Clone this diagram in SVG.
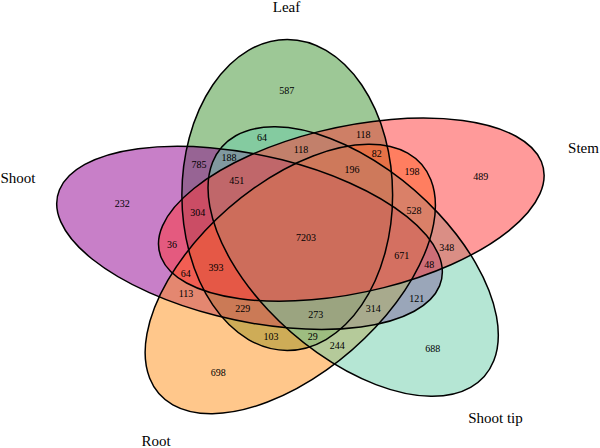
<svg xmlns="http://www.w3.org/2000/svg" xmlns:xlink="http://www.w3.org/1999/xlink" width="600" height="448" viewBox="0 0 600 448">
<style>
.f{fill-opacity:0.5;stroke:none}
.o{fill:none;stroke:#000;stroke-width:1.5}
.cat{font-family:"Liberation Serif","Times New Roman",serif;font-size:15px;fill:#000;text-anchor:middle}
.n{font-family:"Liberation Serif","Times New Roman",serif;font-size:10px;fill:#000;text-anchor:middle}
</style>
<defs>
<ellipse id="e" cx="-14.83" cy="-41.64" rx="82" ry="155.5" vector-effect="non-scaling-stroke"/>
</defs>
<rect width="600" height="448" fill="#fff"/>
<g id="leaf">
<g transform="translate(306.3 236.6) scale(1.285 1)"><use xlink:href="#e" class="f" fill="rgb(59,145,45)"/></g>
<text class="cat" x="286.5" y="12">Leaf</text>
</g>
<g id="shoot">
<g transform="translate(306.3 236.6) scale(1.285 1) rotate(288)"><use xlink:href="#e" class="f" fill="rgb(145,0,145)"/></g>
<text class="cat" x="18" y="183">Shoot</text>
</g>
<g id="root">
<g transform="translate(306.3 236.6) scale(1.285 1) rotate(216)"><use xlink:href="#e" class="f" fill="rgb(255,143,23)"/></g>
<text class="cat" x="156" y="446">Root</text>
</g>
<g id="shoot-tip">
<g transform="translate(306.3 236.6) scale(1.285 1) rotate(144)"><use xlink:href="#e" class="f" fill="rgb(107,205,169)"/></g>
<text class="cat" x="495.5" y="423">Shoot tip</text>
</g>
<g id="stem">
<g transform="translate(306.3 236.6) scale(1.285 1) rotate(72)"><use xlink:href="#e" class="f" fill="rgb(255,53,53)"/></g>
<text class="cat" x="583.5" y="153">Stem</text>
</g>
<g id="outlines" transform="translate(306.3 236.6) scale(1.285 1)">
<use xlink:href="#e" class="o"/>
<use xlink:href="#e" class="o" transform="rotate(72)"/>
<use xlink:href="#e" class="o" transform="rotate(144)"/>
<use xlink:href="#e" class="o" transform="rotate(216)"/>
<use xlink:href="#e" class="o" transform="rotate(288)"/>
</g>
<g id="counts">
<text class="n" x="286.7" y="94.2">587</text>
<text class="n" x="480.7" y="179.5">489</text>
<text class="n" x="122.3" y="206.8">232</text>
<text class="n" x="432.7" y="352.2">688</text>
<text class="n" x="218.3" y="376.2">698</text>
<text class="n" x="262" y="141.2">64</text>
<text class="n" x="363.3" y="137.5">118</text>
<text class="n" x="301" y="152.8">118</text>
<text class="n" x="229" y="161.2">188</text>
<text class="n" x="376.7" y="156.8">82</text>
<text class="n" x="199" y="167.8">785</text>
<text class="n" x="352" y="172.8">196</text>
<text class="n" x="412" y="175.2">198</text>
<text class="n" x="236.7" y="184.2">451</text>
<text class="n" x="197.7" y="215.8">304</text>
<text class="n" x="414" y="213.5">528</text>
<text class="n" x="306" y="240.7">7203</text>
<text class="n" x="172" y="247.8">36</text>
<text class="n" x="401.7" y="259.2">671</text>
<text class="n" x="446.7" y="251.2">348</text>
<text class="n" x="429.3" y="267.8">48</text>
<text class="n" x="185.7" y="276.5">64</text>
<text class="n" x="216" y="271.2">393</text>
<text class="n" x="186" y="296.8">113</text>
<text class="n" x="416.7" y="301.8">121</text>
<text class="n" x="242.7" y="311.8">229</text>
<text class="n" x="315.7" y="317.8">273</text>
<text class="n" x="373.3" y="311.8">314</text>
<text class="n" x="271" y="340.2">103</text>
<text class="n" x="312.7" y="340.2">29</text>
<text class="n" x="337.3" y="349.2">244</text>
</g>
</svg>
